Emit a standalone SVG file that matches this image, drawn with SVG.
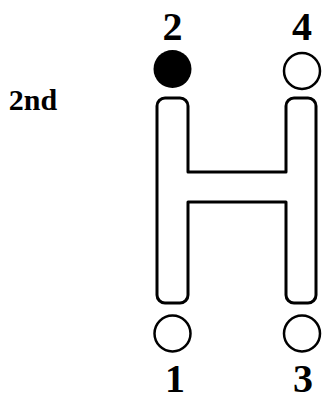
<svg xmlns="http://www.w3.org/2000/svg" width="326" height="395" viewBox="0 0 326 395">
<style>
.lbl{font-family:"Liberation Serif","Times New Roman",serif;font-weight:bold;fill:#000;text-anchor:middle}
.pos{fill:#fff;stroke:#000;stroke-width:2.5}
.gate{fill:#fff;stroke:#000;stroke-width:3;stroke-linejoin:round}
</style>
<rect width="326" height="395" fill="#fff"/>
<g id="title"><text class="lbl" x="33" y="110" font-size="30">2nd</text></g>
<g id="connectors">
<path class="gate" d="M165 98 H180 A8 8 0 0 1 188 106 V172 H286 V106 A8 8 0 0 1 294 98 H308 A8 8 0 0 1 316 106 V295 A8 8 0 0 1 308 303 H294 A8 8 0 0 1 286 295 V202 H188 V295 A8 8 0 0 1 180 303 H165 A8 8 0 0 1 157 295 V106 A8 8 0 0 1 165 98 Z"/>
</g>
<g id="gear2"><circle cx="172.5" cy="69" r="19" fill="#000"/><text class="lbl" x="172.5" y="40" font-size="40">2</text></g>
<g id="gear4"><circle class="pos" cx="302" cy="71" r="18"/><text class="lbl" x="302" y="40" font-size="40">4</text></g>
<g id="gear1"><circle class="pos" cx="172.5" cy="333.5" r="18"/><text class="lbl" x="175" y="392" font-size="40">1</text></g>
<g id="gear3"><circle class="pos" cx="302" cy="333.5" r="18"/><text class="lbl" x="303" y="392" font-size="40">3</text></g>
</svg>
